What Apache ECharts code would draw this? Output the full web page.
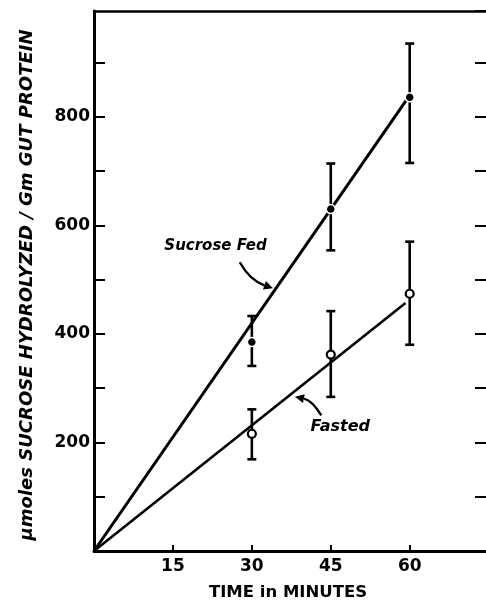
<!DOCTYPE html>
<html>
<head>
<meta charset="utf-8">
<script src="https://cdn.jsdelivr.net/npm/echarts@6/dist/echarts.min.js"></script>
<style>
html,body{margin:0;padding:0;background:#fff;}
#chart{width:486px;height:602px;}
</style>
</head>
<body>
<div id="chart"></div>
<script>
// ---- data ----
const xTickLabels = [15, 30, 45, 60];
const yTickLabels = [200, 400, 600, 800];
const times = [30, 45, 60];
const fedMean = [385, 630, 836];
const fedLow = [341, 554, 715];
const fedHigh = [433, 714, 935];
const fastMean = [216, 362, 474];
const fastLow = [169, 284, 380];
const fastHigh = [261, 442, 570];
const fedFit = [[0, 0], [59.3, 830]];
const fastFit = [[0, 0], [59.2, 457]];
const annotations = [
  { text: 'Sucrose Fed', at: [23.1, 562], size: 15, arrow: [[27.7, 532], [29.6, 499], [34.0, 484]] },
  { text: 'Fasted', at: [46.8, 228], size: 16, arrow: [[43.2, 250], [41.4, 278], [38.2, 284]] }
];
const xTitle = 'TIME in MINUTES';
const yTitle = 'µmoles SUCROSE HYDROLYZED / Gm GUT PROTEIN';

const FONT = '"DejaVu Sans", sans-serif';
const chart = echarts.init(document.getElementById('chart'), null, { renderer: 'canvas' });

function errorRender(params, api) {
  const x = api.value(0), lo = api.value(1), hi = api.value(2);
  const a = api.coord([x, lo]), b = api.coord([x, hi]);
  const w = 4.5;
  const st = { stroke: '#000', lineWidth: 2.6 };
  return {
    type: 'group',
    children: [
      { type: 'line', shape: { x1: a[0], y1: a[1], x2: b[0], y2: b[1] }, style: st },
      { type: 'line', shape: { x1: a[0] - w, y1: a[1], x2: a[0] + w, y2: a[1] }, style: st },
      { type: 'line', shape: { x1: b[0] - w, y1: b[1], x2: b[0] + w, y2: b[1] }, style: st }
    ]
  };
}

const option = {
  backgroundColor: '#fff',
  animation: false,
  grid: { left: 94, right: 0, top: 11, bottom: 51, containLabel: false },
  xAxis: [{
    type: 'value', min: 0, max: 74.5, interval: 15, position: 'bottom',
    axisLine: { show: true, onZero: false, lineStyle: { color: '#000', width: 3 } },
    axisTick: { show: true, inside: true, length: 6, lineStyle: { color: '#000', width: 2 } },
    axisLabel: {
      color: '#000', fontFamily: FONT, fontWeight: 'bold', fontSize: 17, margin: 7,
      showMaxLabel: false,
      formatter: v => xTickLabels.indexOf(v) >= 0 ? String(v) : ''
    },
    splitLine: { show: false }
  }, {
    type: 'value', position: 'top', min: 0, max: 74.5,
    axisLine: { show: true, onZero: false, lineStyle: { color: '#000', width: 2.5 } },
    axisTick: { show: false }, axisLabel: { show: false }, splitLine: { show: false }
  }],
  yAxis: [{
    type: 'value', min: 0, max: 995, interval: 100, position: 'left',
    axisLine: { show: true, onZero: false, lineStyle: { color: '#000', width: 3 } },
    axisTick: { show: true, inside: true, length: 11, lineStyle: { color: '#000', width: 2 } },
    axisLabel: {
      color: '#000', fontFamily: FONT, fontWeight: 'bold', fontSize: 17, margin: 4,
      showMaxLabel: false,
      formatter: v => yTickLabels.indexOf(v) >= 0 ? String(v) : ''
    },
    splitLine: { show: false }
  }, {
    type: 'value', position: 'right', min: 0, max: 995, interval: 100,
    axisLine: { show: false, onZero: false },
    axisTick: { show: true, inside: true, length: 11, lineStyle: { color: '#000', width: 2 } },
    axisLabel: { show: false }, splitLine: { show: false }
  }],
  series: [
    { type: 'line', data: fedFit, symbol: 'none', lineStyle: { color: '#000', width: 3 }, z: 2 },
    { type: 'line', data: fastFit, symbol: 'none', lineStyle: { color: '#000', width: 2.6 }, z: 2 },
    { type: 'custom', renderItem: errorRender, data: times.map((t, i) => [t, fedLow[i], fedHigh[i]]), z: 3 },
    { type: 'custom', renderItem: errorRender, data: times.map((t, i) => [t, fastLow[i], fastHigh[i]]), z: 3 },
    { type: 'scatter', data: times.map((t, i) => [t, fedMean[i]]), symbol: 'circle', symbolSize: 9,
      itemStyle: { color: '#000', borderColor: '#fff', borderWidth: 1.5, opacity: 1 }, z: 5 },
    { type: 'scatter', data: times.map((t, i) => [t, fastMean[i]]), symbol: 'circle', symbolSize: 8,
      itemStyle: { color: '#fff', borderColor: '#000', borderWidth: 2.2, opacity: 1 }, z: 5 }
  ]
};
chart.setOption(option);

// ---- titles & annotations ----
const px = p => chart.convertToPixel({ gridIndex: 0 }, p);
const graphics = [];
graphics.push({
  type: 'text', x: 288, y: 593,
  style: { text: xTitle, fill: '#000', font: 'bold 16.5px ' + FONT, align: 'center', verticalAlign: 'middle' }
});
graphics.push({
  type: 'text', x: 27, y: 285, rotation: Math.PI / 2,
  style: { text: yTitle, fill: '#000', font: 'italic bold 18px ' + FONT, align: 'center', verticalAlign: 'middle' }
});
annotations.forEach(a => {
  const c = px(a.at);
  graphics.push({
    type: 'text', x: c[0], y: c[1],
    style: { text: a.text, fill: '#000', font: 'italic bold ' + a.size + 'px ' + FONT, align: 'center', verticalAlign: 'middle' }
  });
  const s = px(a.arrow[0]), k = px(a.arrow[1]), e = px(a.arrow[2]);
  const dx = e[0] - k[0], dy = e[1] - k[1], L = Math.hypot(dx, dy);
  const ux = dx / L, uy = dy / L;
  const len = 9, hw = 4.5;
  const bx = e[0] - ux * len, by = e[1] - uy * len;
  graphics.push({
    type: 'bezierCurve',
    shape: { x1: s[0], y1: s[1], cpx1: k[0], cpy1: k[1], x2: bx, y2: by },
    style: { stroke: '#000', lineWidth: 2.4, fill: null }
  });
  graphics.push({
    type: 'polygon',
    shape: { points: [[e[0], e[1]], [bx - uy * hw, by + ux * hw], [bx + uy * hw, by - ux * hw]] },
    style: { fill: '#000' }
  });
});
chart.setOption({ graphic: graphics });
</script>
</body>
</html>
